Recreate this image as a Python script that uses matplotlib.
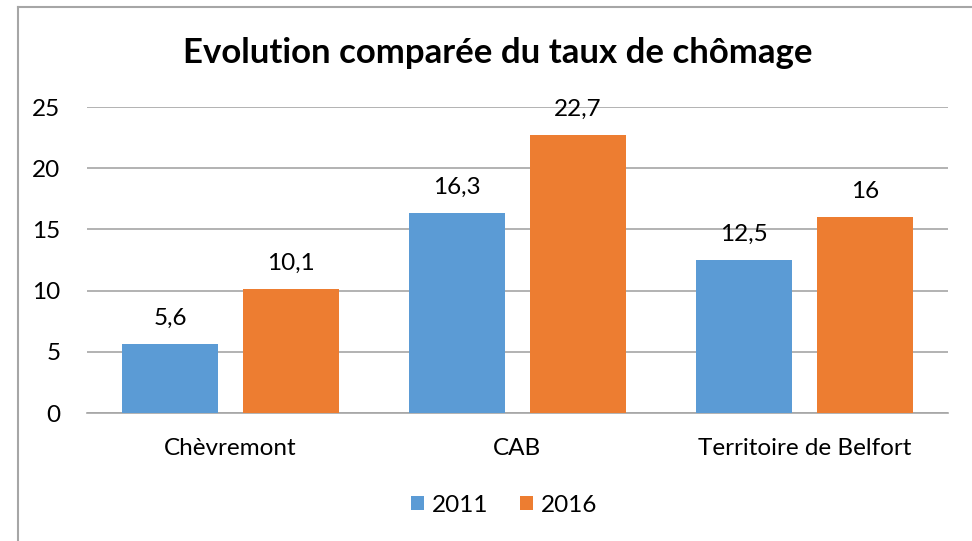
import matplotlib.pyplot as plt
import numpy as np
from matplotlib.lines import Line2D

categories = ['Chèvremont', 'CAB', 'Territoire de Belfort']
series = ['2011', '2016']
values_2011 = [5.6, 16.3, 12.5]
values_2016 = [10.1, 22.7, 16]
labels_2011 = ['5,6', '16,3', '12,5']
labels_2016 = ['10,1', '22,7', '16']
colors = ['#5B9BD5', '#ED7D31']

plt.rcParams['font.family'] = ['Lato', 'DejaVu Sans']

W, H = 972, 541
fig = plt.figure(figsize=(W / 100, H / 100), dpi=100)
ax = fig.add_axes([87 / W, 1 - 413 / H, (948 - 87) / W, (413 - 107) / H])

x = np.arange(len(categories))
width = 0.334
off = (width + 0.087) / 2
b1 = ax.bar(x - off, values_2011, width, color=colors[0], label=series[0], zorder=3)
b2 = ax.bar(x + off, values_2016, width, color=colors[1], label=series[1], zorder=3)

for bars, labs in [(b1, labels_2011), (b2, labels_2016)]:
    for rect, lab in zip(bars, labs):
        ax.annotate(lab, (rect.get_x() + rect.get_width() / 2, rect.get_height()),
                    xytext=(0, 11), textcoords='offset points',
                    ha='center', va='bottom', fontsize=17.5, color='#000000')

ax.set_xlim(-0.5, 2.5)
ax.set_ylim(0, 25)
ax.set_yticks([0, 5, 10, 15, 20, 25])
ax.set_xticks(x)
ax.set_xticklabels(categories)
ax.tick_params(axis='both', length=0, labelsize=17.5, colors='#000000')
ax.tick_params(axis='y', pad=19)
ax.tick_params(axis='x', pad=18)
ax.grid(axis='y', color='#A6A6A6', linewidth=1.2, zorder=0)
for s in ['top', 'right', 'left']:
    ax.spines[s].set_visible(False)
ax.spines['bottom'].set_color('#A6A6A6')
ax.spines['bottom'].set_linewidth(1.2)

fig.text(498 / W, 1 - 53 / H, 'Evolution comparée du taux de chômage',
         ha='center', va='center', fontsize=25, fontweight='bold')

ax.legend(loc='center', bbox_to_anchor=(504 / W, 1 - 505 / H),
          bbox_transform=fig.transFigure, ncol=2, frameon=False,
          fontsize=17.5, handlelength=0.55, handleheight=0.55,
          handletextpad=0.3, columnspacing=1.3)

# chart border
fig.add_artist(Line2D([18 / W, 18 / W], [0, 1 - 7 / H], color='#A6A6A6', linewidth=1.5))
fig.add_artist(Line2D([18 / W, 1], [1 - 7 / H, 1 - 7 / H], color='#A6A6A6', linewidth=1.5))

fig.savefig('out.png', dpi=100)
